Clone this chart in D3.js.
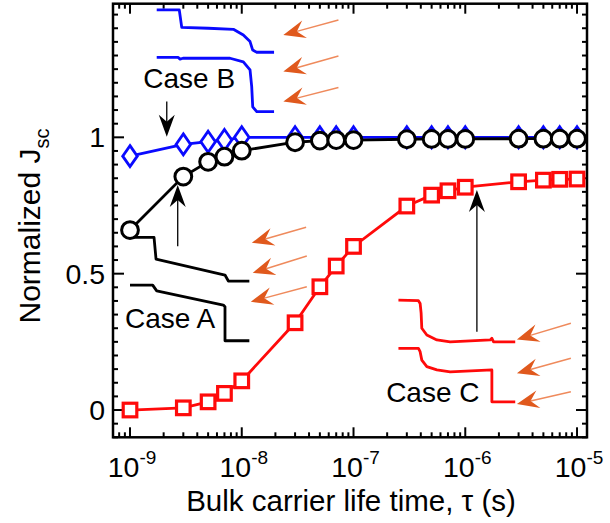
<!DOCTYPE html>
<html>
<head>
<meta charset="utf-8">
<script src="https://cdn.jsdelivr.net/npm/d3@7"></script>
<style>
  html, body { margin: 0; padding: 0; background: #fff; }
  svg { display: block; }
  text { font-family: "Liberation Sans", Arial, Helvetica, sans-serif; fill: #000; }
</style>
</head>
<body>
<svg id="chart" width="610" height="523"></svg>
<script>
// ---------------- data ----------------
const tau = [1e-9, 3e-9, 5e-9, 7e-9, 1e-8, 3e-8, 5e-8, 7e-8, 1e-7,
             3e-7, 5e-7, 7e-7, 1e-6, 3e-6, 5e-6, 7e-6, 1e-5];
const caseA = [0.66, 0.856, 0.91, 0.929, 0.951, 0.982, 0.988, 0.99, 0.99,
               0.993, 0.994, 0.994, 0.994, 0.995, 0.995, 0.995, 0.995];
const caseB = [0.931, 0.974, 0.984, 0.99, 1.0, 1.0, 1.0, 1.0, 1.0,
               1.0, 1.0, 1.0, 1.0, 1.0, 1.0, 1.0, 1.0];
const caseC = [0.0, 0.008, 0.03, 0.061, 0.107, 0.32, 0.452, 0.528, 0.60,
               0.748, 0.788, 0.804, 0.817, 0.837, 0.843, 0.846, 0.847];

const xTickExponents = [-9, -8, -7, -6, -5];
const yTickValues = [0, 0.5, 1];
const yTickLabels = ["0", "0.5", "1"];
const xTitle = "Bulk carrier life time, \u03c4 (s)";
const yTitle = "Normalized J";
const yTitleSub = "sc";

// inset schematic curves, in [log10(tau), normalized Jsc] units
const insetB1 = [[-8.761,1.467],[-8.559,1.467],[-8.537,1.403],[-8.3,1.400],[-8.075,1.396],
                 [-7.986,1.375],[-7.926,1.351],[-7.902,1.320],[-7.866,1.312],[-7.711,1.312]];
const insetB2 = [[-8.761,1.293],[-8.570,1.293],[-8.552,1.287],[-8.526,1.290],[-8.105,1.290],
                 [-7.986,1.277],[-7.926,1.247],[-7.911,1.186],[-7.902,1.112],[-7.866,1.094],[-7.711,1.094]];
const insetA1 = [[-9.0,0.633],[-8.785,0.633],[-8.767,0.553],[-8.150,0.495],[-8.120,0.473],[-7.932,0.473]];
const insetA2 = [[-9.0,0.458],[-8.797,0.458],[-8.761,0.437],[-8.165,0.385],[-8.150,0.379],
                 [-8.150,0.254],[-7.932,0.254]];
const insetC1 = [[-6.598,0.403],[-6.419,0.401],[-6.404,0.391],[-6.395,0.355],[-6.389,0.300],
                 [-6.344,0.275],[-6.254,0.257],[-6.135,0.250],[-5.777,0.257],[-5.762,0.263],
                 [-5.747,0.250],[-5.553,0.250]];
const insetC2 = [[-6.598,0.226],[-6.419,0.226],[-6.404,0.214],[-6.389,0.183],[-6.344,0.159],
                 [-6.254,0.147],[-6.135,0.140],[-5.762,0.147],[-5.762,0.030],[-5.553,0.030]];

// orange arrows: [tail log10tau, tail J, tip log10tau, tip J]
const orangeArrows = [
  [-7.135,1.430,-7.628,1.375],[-7.135,1.298,-7.628,1.241],[-7.135,1.183,-7.628,1.131],
  [-7.424,0.670,-7.910,0.613],[-7.418,0.565,-7.902,0.503],[-7.418,0.452,-7.919,0.397],
  [-5.055,0.318,-5.538,0.259],[-5.055,0.190,-5.538,0.135],[-5.055,0.067,-5.538,0.022]
];
// black pointer arrows
const blackArrows = [
  [-8.671,1.131,-8.671,1.002],
  [-8.573,0.601,-8.573,0.825],
  [-5.896,0.287,-5.896,0.807]
];
const caseLabels = [
  {text: "Case B", lx: -8.881, j: 1.181},
  {text: "Case A", lx: -9.045, j: 0.301},
  {text: "Case C", lx: -6.708, j: 0.030}
];

// ---------------- layout ----------------
const svg = d3.select("#chart");
const pL = 113, pR = 587, pT = 3.7, pB = 437.3;

const x = d3.scaleLog().domain([7.045e-10, 1.228e-5]).range([pL, pR]);
const y = d3.scaleLinear().domain([-0.1, 1.49]).range([pB, pT]);
const lx = v => x(Math.pow(10, v));

const blue = "#0a0aff", red = "#ff0a0a", orange = "#e0591d", orangeLight = "#ef8a5c";

// ---------------- ticks ----------------
const g = svg.append("g");
const minorX = [];
for (let e = -10; e <= -5; e++) for (let m = 1; m <= 9; m++) {
  const v = m * Math.pow(10, e);
  if (v >= x.domain()[0] && v <= x.domain()[1]) minorX.push({v, major: m === 1});
}
g.append("g").selectAll("line").data(minorX).join("line")
  .attr("x1", d => x(d.v)).attr("x2", d => x(d.v))
  .attr("y1", pB).attr("y2", d => pB - (d.major ? 10 : 5))
  .attr("stroke", "#000").attr("stroke-width", 2);
g.append("g").selectAll("line").data(minorX).join("line")
  .attr("x1", d => x(d.v)).attr("x2", d => x(d.v))
  .attr("y1", pT).attr("y2", d => pT + (d.major ? 10 : 5))
  .attr("stroke", "#000").attr("stroke-width", 2);

const minorY = d3.range(-0.1, 1.49, 0.05).map(v => +v.toFixed(2));
const isMajorY = v => Math.abs(v * 2 - Math.round(v * 2)) < 1e-6;
g.append("g").selectAll("line").data(minorY).join("line")
  .attr("x1", pL).attr("x2", d => pL + (isMajorY(d) ? 11 : 5))
  .attr("y1", d => y(d)).attr("y2", d => y(d))
  .attr("stroke", "#000").attr("stroke-width", 2);
g.append("g").selectAll("line").data(minorY).join("line")
  .attr("x1", pR).attr("x2", d => pR - (isMajorY(d) ? 11 : 5))
  .attr("y1", d => y(d)).attr("y2", d => y(d))
  .attr("stroke", "#000").attr("stroke-width", 2);

// frame
svg.append("rect").attr("x", pL).attr("y", pT)
  .attr("width", pR - pL).attr("height", pB - pT)
  .attr("fill", "none").attr("stroke", "#000").attr("stroke-width", 2.5);

// tick labels
const xl = svg.append("g").selectAll("text").data(xTickExponents).join("text")
  .attr("x", d => x(Math.pow(10, d)) + 2).attr("y", 477)
  .attr("text-anchor", "middle").attr("font-size", 28.5);
xl.append("tspan").text("10");
xl.append("tspan").attr("dy", -13).attr("font-size", 19).text(d => String(d));

svg.append("g").selectAll("text").data(yTickValues).join("text")
  .attr("x", 105).attr("y", d => y(d) + 10)
  .attr("text-anchor", "end").attr("font-size", 28.5)
  .text((d, i) => yTickLabels[i]);

// axis titles
svg.append("text").attr("x", (pL + pR) / 2 + 1).attr("y", 511)
  .attr("text-anchor", "middle").attr("font-size", 29.5).text(xTitle);
const yt = svg.append("text")
  .attr("transform", `translate(40, 226) rotate(-90)`)
  .attr("text-anchor", "middle").attr("font-size", 30);
yt.append("tspan").text(yTitle);
yt.append("tspan").attr("dy", 9).attr("font-size", 20).text(yTitleSub);

// ---------------- insets ----------------
const insetLine = d3.line().x(d => lx(d[0])).y(d => y(d[1])).curve(d3.curveLinear);
const insets = [
  {pts: insetB1, c: blue}, {pts: insetB2, c: blue},
  {pts: insetA1, c: "#000"}, {pts: insetA2, c: "#000"},
  {pts: insetC1, c: red}, {pts: insetC2, c: red}
];
svg.append("g").selectAll("path").data(insets).join("path")
  .attr("d", d => insetLine(d.pts))
  .attr("fill", "none").attr("stroke", d => d.c).attr("stroke-width", 2.8)
  .attr("stroke-linejoin", "round");

// arrow helper
function arrowHead(tx, ty, ux, uy, len, hw, notch) {
  const px = -uy, py = ux;
  const bx = tx - ux * len, by = ty - uy * len;
  const nx = tx - ux * (len - notch), ny = ty - uy * (len - notch);
  return `M${tx},${ty}L${bx + px * hw},${by + py * hw}L${nx},${ny}L${bx - px * hw},${by - py * hw}Z`;
}
const ag = svg.append("g");
orangeArrows.forEach(a => {
  const x0 = lx(a[0]), y0 = y(a[1]), x1 = lx(a[2]), y1 = y(a[3]);
  const L = Math.hypot(x1 - x0, y1 - y0), ux = (x1 - x0) / L, uy = (y1 - y0) / L;
  ag.append("line").attr("x1", x0).attr("y1", y0)
    .attr("x2", x1 - ux * 14).attr("y2", y1 - uy * 14)
    .attr("stroke", orangeLight).attr("stroke-width", 1.5);
  ag.append("path").attr("d", arrowHead(x1, y1, ux, uy, 22, 9, 8)).attr("fill", orange);
});
blackArrows.forEach(a => {
  const x0 = lx(a[0]), y0 = y(a[1]), x1 = lx(a[2]), y1 = y(a[3]);
  const L = Math.hypot(x1 - x0, y1 - y0), ux = (x1 - x0) / L, uy = (y1 - y0) / L;
  ag.append("line").attr("x1", x0).attr("y1", y0)
    .attr("x2", x1 - ux * 12).attr("y2", y1 - uy * 12)
    .attr("stroke", "#000").attr("stroke-width", 1.3);
  ag.append("path").attr("d", arrowHead(x1, y1, ux, uy, 22, 8, 7)).attr("fill", "#000");
});

svg.append("g").selectAll("text").data(caseLabels).join("text")
  .attr("x", d => lx(d.lx)).attr("y", d => y(d.j))
  .attr("font-size", 28).text(d => d.text);

// ---------------- series ----------------
const line = d3.line().x(d => x(d[0])).y(d => y(d[1]));
const zip = arr => tau.map((t, i) => [t, arr[i]]);

// Case B (blue diamonds)
svg.append("path").attr("d", line(zip(caseB))).attr("fill", "none")
  .attr("stroke", blue).attr("stroke-width", 2.8);
svg.append("g").selectAll("path").data(zip(caseB)).join("path")
  .attr("transform", d => `translate(${x(d[0])},${y(d[1])})`)
  .attr("d", "M0,-10.5L7.3,0L0,10.5L-7.3,0Z")
  .attr("fill", "#fff").attr("stroke", blue).attr("stroke-width", 2.8);

// Case A (black circles)
svg.append("path").attr("d", line(zip(caseA))).attr("fill", "none")
  .attr("stroke", "#000").attr("stroke-width", 2.8);
svg.append("g").selectAll("circle").data(zip(caseA)).join("circle")
  .attr("cx", d => x(d[0])).attr("cy", d => y(d[1])).attr("r", 8.4)
  .attr("fill", "#fff").attr("stroke", "#000").attr("stroke-width", 3);

// Case C (red squares)
svg.append("path").attr("d", line(zip(caseC))).attr("fill", "none")
  .attr("stroke", red).attr("stroke-width", 2.8);
svg.append("g").selectAll("rect").data(zip(caseC)).join("rect")
  .attr("x", d => x(d[0]) - 6.8).attr("y", d => y(d[1]) - 6.8)
  .attr("width", 13.6).attr("height", 13.6)
  .attr("fill", "#fff").attr("stroke", red).attr("stroke-width", 3.2);
</script>
</body>
</html>
